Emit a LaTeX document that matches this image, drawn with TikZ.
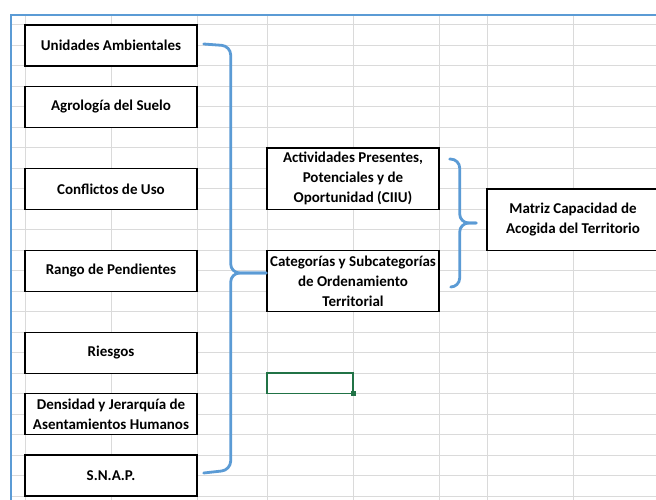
\documentclass[tikz,border=0pt]{standalone}
\usepackage{fontspec}
\setmainfont{Carlito}
\usepackage{tikz}
\usetikzlibrary{calc}

\begin{document}
\begin{tikzpicture}[x=1pt, y=-1pt,
  cellbox/.style={draw=black, line width=1.4pt, fill=white, inner sep=0pt,
    align=center, font=\fontsize{15}{20}\selectfont\bfseries,
    minimum width=172pt, minimum height=41pt},
  tallbox/.style={cellbox, minimum height=61.4pt},
  brace/.style={draw=bracket, line width=2.8pt, line cap=round}]
% Screenshot of a spreadsheet: seven input layers bracketed into the
% land-use categories, which join the activities in the final matrix.
% Pixel units, y grows downwards.
\definecolor{frame}{RGB}{91, 155, 213}
\definecolor{bracket}{RGB}{91, 155, 213}
\definecolor{gridline}{RGB}{218, 218, 218}
\definecolor{selgreen}{RGB}{33, 115, 70}
\path[use as bounding box] (0,0) rectangle (656,500);
\clip (0,0) rectangle (656,500);
\fill[white] (0,0) rectangle (656,500);
% sheet grid
\foreach \k in {0,...,23} {
  \draw[gridline, line width=1pt] (11,25+20.48*\k) -- (656,25+20.48*\k);
}
\foreach \x in {25, 111, 197, 267, 353, 439, 487, 573} {
  \draw[gridline, line width=1pt] (\x,15) -- (\x,500);
}
% outline of the pasted picture
\draw[frame, line width=2pt] (11,500) -- (11,15) -- (656,15);

% input layers
\node[cellbox] (unidades) at (111,45.5) {Unidades Ambientales};
\node[cellbox] (agrologia) at (111,106.9) {Agrología del Suelo};
\node[cellbox] (conflictos) at (111,188.8) {Conflictos de Uso};
\node[cellbox] (pendientes) at (111,270.8) {Rango de Pendientes};
\node[cellbox] (riesgos) at (111,352.7) {Riesgos};
\node[cellbox] (asentamientos) at (111,414.1) {Densidad y Jerarquía de\\Asentamientos Humanos};
\node[cellbox] (snap) at (111,475.5) {S.N.A.P.};
% middle and result
\node[tallbox] (actividades) at (353,178.6) {Actividades Presentes,\\Potenciales y de\\Oportunidad (CIIU)};
\node[tallbox] (categorias) at (353,281) {Categorías y Subcategorías\\de Ordenamiento\\Territorial};
\node[tallbox] (matriz) at (573,219.6) {Matriz Capacidad de\\Acogida del Territorio};

% selected cell
\draw[selgreen, line width=1.5pt] (267,373.2) rectangle (353,393.6);
\fill[selgreen] (350.5,391.1) rectangle (355.5,396.1);

% left brace
\coordinate (lb-top) at ($(unidades.east)+(6,-1.5)$);
\coordinate (lb-bot) at ($(snap.east)+(6,-2.5)$);
\coordinate (lb-spine) at ($(unidades.east)+(33,0)$);
\coordinate (lb-tip) at ($(categorias.west)+(0,-8)$);
\draw[brace, rounded corners=9pt]
  (lb-top) -- ($(lb-top -| lb-spine)+(0,2)$) -- (lb-spine |- lb-tip) -- (lb-tip);
\draw[brace, rounded corners=9pt]
  (lb-bot) -- ($(lb-bot -| lb-spine)+(0,-3)$) -- (lb-spine |- lb-tip) -- (lb-tip);
% right brace
\coordinate (rb-top) at ($(actividades.east)+(10,-19.5)$);
\coordinate (rb-bot) at ($(categorias.east)+(11,6)$);
\coordinate (rb-spine) at ($(actividades.east)+(20,0)$);
\coordinate (rb-tip) at ($(matriz.west)+(-10,3.4)$);
\draw[brace, rounded corners=9pt]
  (rb-top) -- (rb-top -| rb-spine) -- (rb-spine |- rb-tip) -- (rb-tip);
\draw[brace, rounded corners=9pt]
  (rb-bot) -- (rb-bot -| rb-spine) -- (rb-spine |- rb-tip) -- (rb-tip);
\end{tikzpicture}
\end{document}
